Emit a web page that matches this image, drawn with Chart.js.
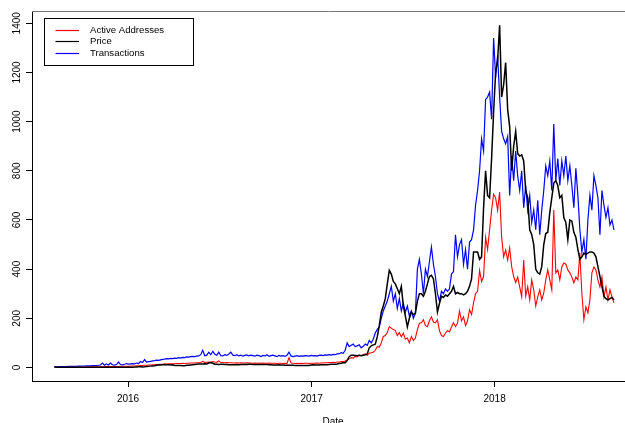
<!DOCTYPE html>
<html>
<head>
<meta charset="utf-8">
<script src="https://cdn.jsdelivr.net/npm/chart.js@4"></script>
<style>
    html, body { margin: 0; padding: 0; background: #fff; overflow: hidden; }
    canvas { display: block; }
</style>
</head>
<body>
<canvas id="myChartEth" width="625" height="423"></canvas>
<script>

// one point every 4 days, starting at the first day of the series
var startDate = '2015-08-07';
var stepDays = 4;

var yearTicks = ['2016', '2017', '2018'];
var valueTicks = [0, 200, 400, 600, 800, 1000, 1200, 1400];

var seriesNames = ['Active Addresses', 'Price', 'Transactions'];
var seriesColors = ['#ff0000', '#000000', '#0000ff'];

var activeAddresses = [
    1, 1, 1, 1, 1, 1, 1.5, 1.5, 1.5, 1.5,
    2, 2, 2, 2, 2, 2, 2, 2.5, 2.5, 2.5,
    3, 3, 3, 3, 3, 3, 3.5, 3.5, 4, 4,
    4, 4, 4, 5, 5, 5, 5, 5, 6, 6,
    6, 7, 7, 8, 8, 9, 9, 10, 10, 11,
    11, 12, 12, 13, 13, 14, 14, 15, 15, 15,
    15, 16, 16, 16, 17, 16, 17, 17, 18, 18,
    18, 19, 19, 20, 25, 20, 21, 22, 21, 24,
    22, 21, 27, 20, 20, 19, 20, 19, 19, 18,
    18, 19, 18, 19, 18, 18, 19, 18, 18, 17,
    18, 17, 18, 17, 18, 17, 17, 18, 17, 17,
    17, 16, 17, 17, 16, 17, 16, 40, 18, 17,
    16, 17, 16, 17, 16, 17, 17, 16, 17, 17,
    17, 18, 17, 18, 18, 19, 19, 20, 20, 21,
    20, 22, 22, 24, 24, 26, 30, 35, 40, 38,
    45, 43, 50, 48, 52, 55, 50, 58, 60, 62,
    70, 85, 82, 100, 126, 130, 142, 166, 160, 154,
    150, 130, 142, 125, 140, 115, 120, 100, 126, 110,
    120, 154, 180, 182, 194, 170, 166, 190, 206, 185,
    182, 194, 150, 130, 126, 140, 150, 145, 165, 182,
    166, 180, 230, 190, 206, 170, 190, 235, 215, 263,
    300, 310, 395, 350, 370, 530, 480, 560, 640, 705,
    690, 640, 714, 530, 450, 478, 437, 486, 410, 370,
    345, 368, 328, 287, 437, 290, 328, 275, 356, 316,
    250, 287, 316, 275, 303, 356, 397, 356, 316, 640,
    385, 397, 356, 409, 425, 420, 397, 385, 368, 344,
    368, 356, 465, 300, 194, 247, 222, 275, 385, 409,
    397, 356, 328, 368, 287, 328, 275, 316, 287, 263
];

var price = [
    2.8, 0.8, 1.2, 1.4, 1.3, 1.3, 1.2, 1.1, 1.0, 0.9,
    0.9, 0.8, 0.7, 0.6, 0.6, 0.6, 0.5, 0.6, 1.0, 0.9,
    1.0, 0.9, 0.9, 0.9, 0.9, 0.9, 0.9, 0.8, 0.9, 0.9,
    0.9, 0.9, 0.9, 0.9, 0.9, 0.9, 0.9, 1.0, 1.0, 1.0,
    1.5, 2.3, 2.5, 2.6, 2.3, 2.5, 3.5, 4.5, 5.5, 6.5,
    7, 9, 11, 10, 11, 12, 11, 11, 10, 11,
    8, 8, 8, 8, 7, 7, 9, 9, 10, 11,
    12, 13, 14, 14, 14, 15, 14, 18, 20, 17,
    13, 13, 12, 13, 13, 12, 12, 11, 11, 11,
    11, 12, 11, 12, 12, 12, 12, 13, 13, 12,
    12, 12, 12, 12, 12, 12, 12, 11, 11, 10,
    10, 10, 11, 10, 10, 9, 9, 9, 9, 9,
    8, 8, 8, 8, 8, 8, 8, 8, 10, 11,
    10, 10, 10, 11, 11, 11, 11, 12, 13, 13,
    13, 14, 16, 17, 19, 19, 28, 44, 50, 50,
    49, 48, 50, 48, 50, 52, 55, 80, 88, 92,
    95, 125, 170, 225, 250, 280, 340, 395, 380, 350,
    340, 320, 300, 330, 250, 210, 165, 200, 225, 215,
    220, 270, 300, 300, 290, 310, 340, 370, 375, 360,
    300, 225, 260, 290, 285, 295, 290, 300, 310, 330,
    300, 305, 300, 300, 295, 300, 310, 330, 360, 470,
    470, 470, 440, 450, 650, 800, 700, 690, 850, 1040,
    1200, 1250, 1392, 1100, 1150, 1240, 1050, 980, 800, 900,
    960, 870, 860, 865, 840, 720, 690, 560, 540, 500,
    400, 385, 380, 410, 500, 545, 550, 630, 690, 750,
    760, 740, 690, 700, 610, 590, 520, 600, 595, 550,
    530, 480, 440, 450, 465, 460, 465, 470, 470, 465,
    450, 410, 370, 330, 290, 280, 275, 280, 285, 275
];

var transactions = [
    3, 3, 3, 4, 4, 4, 4, 5, 5, 5,
    5, 5, 6, 6, 6, 6, 7, 7, 7, 8,
    8, 8, 9, 10, 18, 9, 14, 10, 18, 11,
    10, 12, 22, 12, 11, 13, 16, 14, 15, 16,
    15, 18, 16, 24, 20, 32, 22, 24, 25, 27,
    28, 30, 29, 31, 33, 34, 36, 35, 37, 36,
    38, 37, 40, 38, 41, 40, 43, 42, 44, 45,
    44, 46, 47, 52, 70, 48, 50, 62, 52, 66,
    54, 50, 62, 48, 47, 52, 49, 55, 62, 50,
    48, 52, 47, 50, 46, 49, 51, 47, 50, 48,
    46, 50, 48, 44, 49, 47, 52, 45, 48, 50,
    47, 44, 49, 46, 48, 45, 50, 62, 47, 44,
    46, 48, 45, 47, 46, 48, 47, 46, 49, 47,
    48, 46, 49, 50, 48, 51, 50, 52, 50, 53,
    52, 55, 56, 60, 58, 70, 100, 85, 90, 95,
    85, 88, 92, 80, 86, 95, 90, 110, 100, 115,
    140, 155, 165, 200, 230, 250, 270, 300, 330, 270,
    300, 240, 280, 230, 260, 225, 250, 210, 230, 200,
    220, 400, 440, 380, 300, 400, 370, 430, 490, 420,
    370, 300, 270, 310, 300, 320, 310, 320, 380, 390,
    540, 450, 500, 520, 420, 480, 400, 510, 520, 560,
    660, 720, 800, 930, 880, 1090, 1100, 1120, 1010, 1340,
    1180, 1270, 1100, 960, 930, 910, 940, 700, 860, 760,
    880, 780, 720, 800, 650, 740, 640, 700, 590, 640,
    560, 680, 540, 640, 720, 820, 780, 840, 720, 990,
    760, 850, 740, 840, 780, 860, 760, 820, 740, 650,
    810, 700, 560, 470, 520, 440, 600, 700, 640, 780,
    740, 690, 540, 720, 660, 610, 650, 580, 600, 560
];

var fontFamily = '"Liberation Sans", Arial, sans-serif';

function dayOf(iso) {
    return (Date.parse(iso) - Date.parse(startDate)) / 86400000;
}

function toPoints(arr) {
    return arr.map(function (v, i) { return { x: i * stepDays, y: v }; });
}

// top edge of the box, rotated y labels, legend and the x title
var frameExtras = {
    id: 'frameExtras',
    afterDraw: function (chart) {
        var ctx = chart.ctx;
        var area = chart.chartArea;
        var ys = chart.scales.y;

        ctx.save();
        ctx.strokeStyle = '#777';
        ctx.lineWidth = 1;
        ctx.beginPath();
        ctx.moveTo(area.left, area.top + 0.5);
        ctx.lineTo(area.right, area.top + 0.5);
        ctx.stroke();

        ctx.fillStyle = '#000';
        ctx.font = '10px ' + fontFamily;
        ctx.textAlign = 'center';
        ctx.textBaseline = 'alphabetic';
        valueTicks.forEach(function (v) {
            ctx.save();
            ctx.translate(19.5, ys.getPixelForValue(v));
            ctx.rotate(-Math.PI / 2);
            ctx.fillText(String(v), 0, 0);
            ctx.restore();
        });

        ctx.textBaseline = 'middle';
        ctx.fillText('Date', 333, 422);

        // legend box
        ctx.strokeStyle = '#000';
        ctx.strokeRect(44.5, 18.5, 149, 47);
        ctx.font = '9.6px ' + fontFamily;
        ctx.textAlign = 'left';
        var rows = [30.5, 41.5, 53.5];
        seriesNames.forEach(function (name, k) {
            ctx.strokeStyle = seriesColors[k];
            ctx.lineWidth = 1.2;
            ctx.beginPath();
            ctx.moveTo(55.5, rows[k]);
            ctx.lineTo(79, rows[k]);
            ctx.stroke();
            ctx.fillStyle = '#000';
            ctx.fillText(name, 90, rows[k]);
        });
        ctx.restore();
    }
};

var ctx = document.getElementById('myChartEth');
var myChart = new Chart(ctx, {
    type: 'line',
    data: {
        datasets: [{
            label: seriesNames[0],
            data: toPoints(activeAddresses),
            borderColor: seriesColors[0],
            borderWidth: 1.1,
            order: 2
        }, {
            label: seriesNames[1],
            data: toPoints(price),
            borderColor: seriesColors[1],
            borderWidth: 1.5,
            order: 0
        }, {
            label: seriesNames[2],
            data: toPoints(transactions),
            borderColor: seriesColors[2],
            borderWidth: 1.2,
            order: 1
        }]
    },
    options: {
        responsive: false,
        animation: false,
        devicePixelRatio: 1,
        layout: { padding: { top: 11, left: 0, right: 0, bottom: 0 } },
        elements: {
            point: { radius: 0 },
            line: { tension: 0, fill: false }
        },
        plugins: {
            legend: { display: false },
            tooltip: { enabled: false }
        },
        scales: {
            x: {
                type: 'linear',
                min: -44.5,
                max: 1138,
                afterBuildTicks: function (scale) {
                    scale.ticks = yearTicks.map(function (y) { return { value: dayOf(y + '-01-01') }; });
                },
                afterFit: function (scale) { scale.height = 42; },
                ticks: {
                    color: '#000',
                    font: { family: fontFamily, size: 10 },
                    padding: 6,
                    maxRotation: 0,
                    callback: function (value, index) { return yearTicks[index]; }
                },
                grid: { drawOnChartArea: false, drawTicks: true, tickLength: 6, color: '#000' },
                border: { display: true, color: '#000', width: 1 }
            },
            y: {
                min: -55,
                max: 1450,
                afterBuildTicks: function (scale) {
                    scale.ticks = valueTicks.map(function (v) { return { value: v }; });
                },
                afterFit: function (scale) { scale.width = 32; },
                ticks: { display: false },
                grid: { drawOnChartArea: false, drawTicks: true, tickLength: 6, color: '#000' },
                border: { display: true, color: '#000', width: 1 }
            }
        }
    },
    plugins: [frameExtras]
});
</script>
</body>
</html>
